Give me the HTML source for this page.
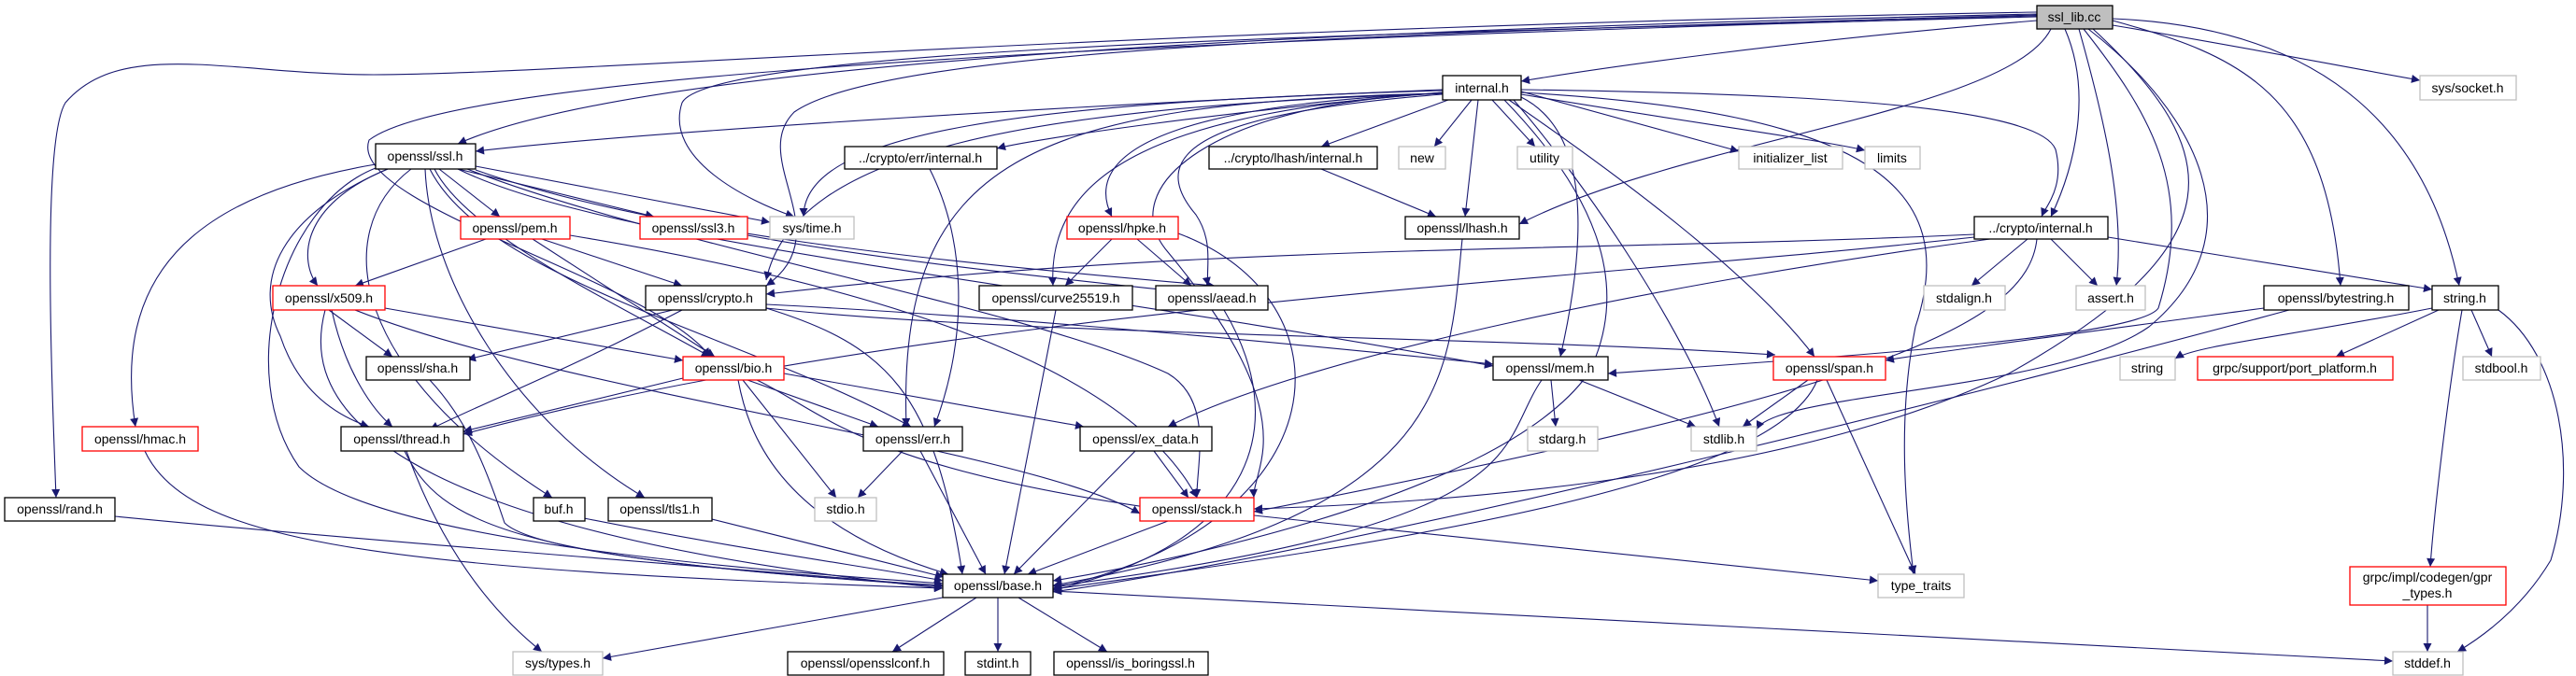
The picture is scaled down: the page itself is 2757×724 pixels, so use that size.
<!DOCTYPE html>
<html><head><meta charset="utf-8"><style>
html,body{margin:0;padding:0;background:#fff}
svg{display:block}
text{font-family:"Liberation Sans",sans-serif;font-size:14px;fill:#000;text-anchor:middle}
.e{fill:none;stroke:#191970;stroke-width:1.1}
.b{fill:#fff;stroke:#000;stroke-width:1.3}
.g{fill:#fff;stroke:#bfbfbf;stroke-width:1.3}
.r{fill:#fff;stroke:#ff0000;stroke-width:1.3}
</style></head><body>
<svg width="2757" height="724" viewBox="0 0 2757 724" xmlns="http://www.w3.org/2000/svg">
<defs><marker id="a" viewBox="0 0 10 10" refX="10" refY="5" markerWidth="11" markerHeight="9" markerUnits="userSpaceOnUse" orient="auto"><path d="M0,0 L10,5 L0,10 z" fill="#191970"/></marker></defs>
<g class="e" marker-end="url(#a)">
<!-- ssl_lib.cc -->
<path d="M2180,22 C1900,45 1700,75 1628,87"/>
<path d="M2180,15 C1500,30 700,60 490,154"/>
<path d="M2180,13 C1200,30 600,80 400,80 C250,80 130,40 70,110 C45,150 55,400 60,533"/>
<path d="M2180,18 C1500,35 760,50 730,110 C710,170 800,215 850,232"/>
<path d="M2180,16 C1500,35 950,50 850,120 C800,170 900,250 820,306"/>
<path d="M2180,17 C1400,40 500,70 395,150 C370,220 700,300 760,382"/>
<path d="M2195,31 C2150,120 1800,150 1626,240"/>
<path d="M2210,31 C2240,100 2220,180 2195,232"/>
<path d="M2225,31 C2250,120 2275,220 2265,306"/>
<path d="M2230,31 C2300,120 2350,200 2310,330 C2290,360 2000,380 1721,400"/>
<path d="M2235,31 C2350,120 2420,250 2300,350 C2200,420 1900,420 1880,460"/>
<path d="M2240,31 C2380,160 2400,260 2150,400 C1900,520 1500,540 1342,545"/>
<path d="M2261,22 C2400,60 2490,100 2505,306"/>
<path d="M2261,20 C2500,30 2600,150 2632,306"/>
<path d="M2261,27 C2400,50 2500,70 2590,86"/>
<!-- internal.h -->
<path d="M1544,96 C1200,110 700,140 509,162"/>
<path d="M1544,99 C1300,120 1100,150 1067,159"/>
<path d="M1550,107 L1414,157"/>
<path d="M1575,107 L1535,157"/>
<path d="M1597,107 L1643,157"/>
<path d="M1628,98 L1861,162"/>
<path d="M1628,101 C1800,130 1950,150 1996,161"/>
<path d="M1544,100 C1300,110 1150,150 1190,232"/>
<path d="M1582,107 L1568,232"/>
<path d="M1544,99 C1250,120 1120,180 1127,306"/>
<path d="M1544,101 C1300,120 1220,160 1280,230 C1300,260 1290,290 1293,306"/>
<path d="M1628,96 C1900,100 2180,110 2200,160 C2210,200 2190,220 2185,232"/>
<path d="M1544,97 C1100,110 860,140 860,232"/>
<path d="M1544,100 C1100,115 850,160 820,300"/>
<path d="M1544,100 C1100,110 960,170 970,457"/>
<path d="M1628,104 C1700,140 1700,250 1670,382"/>
<path d="M1544,100 C1300,110 1190,200 1250,270 C1400,450 1340,500 1342,533"/>
<path d="M1620,107 C1700,200 1800,350 1840,457"/>
<path d="M1615,107 C1750,200 1880,300 1942,382"/>
<path d="M1628,99 C2000,120 2100,200 2050,350 C2030,450 2040,550 2048,615"/>
<path d="M1610,107 C1700,200 1750,300 1700,400 C1600,540 1200,610 1127,622"/>
<!-- mid -->
<path d="M995,181 C1030,250 1040,350 1000,457"/>
<path d="M1414,181 L1537,232"/>
<path d="M1565,256 C1550,400 1560,550 1127,627"/>
<path d="M1190,256 L1140,306"/>
<path d="M1217,256 L1275,306"/>
<path d="M1261,250 C1450,320 1440,560 1127,630"/>
<path d="M1130,332 L1075,615"/>
<path d="M1310,332 C1380,450 1350,580 1127,632"/>
<!-- ssl.h -->
<path d="M470,181 L535,232"/>
<path d="M490,181 L700,232"/>
<path d="M509,178 L824,238"/>
<path d="M415,181 C320,220 320,280 340,306"/>
<path d="M402,176 C200,210 120,300 145,457"/>
<path d="M415,181 C300,230 270,300 300,360 C320,420 360,445 395,457"/>
<path d="M440,181 C350,250 380,400 591,533"/>
<path d="M455,181 C460,300 550,450 690,533"/>
<path d="M465,181 C500,250 650,320 760,382"/>
<path d="M460,181 C520,300 800,360 975,457"/>
<path d="M500,181 C700,260 1100,330 1250,400 C1300,430 1280,500 1281,533"/>
<path d="M402,180 C300,220 250,400 320,500 C400,580 800,610 1009,625"/>
<path d="M509,182 C700,250 1000,280 1300,306"/>
<path d="M490,181 C650,260 1100,300 1598,392"/>
<!-- pem, ssl3, x509, crypto -->
<path d="M520,256 L380,306"/>
<path d="M580,256 L730,306"/>
<path d="M570,256 L765,382"/>
<path d="M610,252 C900,300 1200,380 1281,533"/>
<path d="M800,252 C950,280 1150,300 1260,312"/>
<path d="M352,332 L420,382"/>
<path d="M355,332 C370,400 400,440 420,457"/>
<path d="M412,330 L731,386"/>
<path d="M348,332 C330,400 330,560 1009,630"/>
<path d="M380,332 C600,420 1100,480 1220,550"/>
<path d="M720,332 L500,385"/>
<path d="M730,332 C600,400 520,430 460,460"/>
<path d="M820,326 C1100,340 1400,370 1598,390"/>
<path d="M820,330 C950,370 1000,420 1030,615"/>
<path d="M820,330 C1100,360 1600,360 1900,380"/>
<!-- sha, bio, hmac, thread -->
<path d="M460,407 C500,450 520,500 540,560 C580,600 900,620 1009,628"/>
<path d="M731,405 L496,462"/>
<path d="M790,407 C800,460 830,560 1015,615"/>
<path d="M800,407 L940,457"/>
<path d="M810,407 C880,440 920,500 1240,545"/>
<path d="M795,407 L895,533"/>
<path d="M839,400 L1160,457"/>
<path d="M155,483 C200,580 400,610 1009,630"/>
<path d="M433,483 C470,560 550,600 1009,627"/>
<path d="M435,483 C470,580 520,650 580,698"/>
<!-- bottom -->
<path d="M123,553 C400,580 800,610 1009,628"/>
<path d="M625,555 C800,590 950,610 1009,622"/>
<path d="M762,556 C900,590 980,610 1010,618"/>
<path d="M966,483 L918,533"/>
<path d="M985,483 L1055,615"/>
<path d="M1215,483 L1085,615"/>
<path d="M1235,483 L1272,533"/>
<path d="M1250,558 L1100,615"/>
<path d="M1342,552 C1600,580 1900,610 2010,622"/>
<path d="M1650,407 C1600,480 1650,560 1127,628"/>
<path d="M1660,407 L1665,457"/>
<path d="M1690,407 L1815,457"/>
<path d="M1935,407 L1865,457"/>
<path d="M1955,407 L2050,615"/>
<path d="M1945,407 C1900,520 1500,580 1127,631"/>
<!-- crypto/internal.h -->
<path d="M2170,256 L2110,306"/>
<path d="M2195,256 L2245,306"/>
<path d="M2256,254 L2603,310"/>
<path d="M2113,251 C1700,270 1300,260 820,315"/>
<path d="M2113,254 C1700,300 1000,330 496,465"/>
<path d="M2130,256 C1800,300 1400,380 1250,457"/>
<path d="M2180,256 C2170,350 2000,420 1342,548"/>
<!-- bytestring, string.h -->
<path d="M2423,330 C2200,360 2050,380 2018,386"/>
<path d="M2450,332 C2200,400 1500,580 1127,634"/>
<path d="M2603,330 C2450,360 2350,370 2328,384"/>
<path d="M2610,332 L2500,382"/>
<path d="M2645,332 L2667,382"/>
<path d="M2635,332 C2620,420 2605,550 2601,607"/>
<path d="M2674,332 C2740,380 2760,500 2730,600 C2700,650 2660,680 2630,698"/>
<path d="M2598,648 L2598,698"/>
<!-- base.h -->
<path d="M1009,640 L645,705"/>
<path d="M1045,640 L955,698"/>
<path d="M1068,640 L1068,698"/>
<path d="M1090,640 L1185,698"/>
<path d="M1127,633 L2561,708"/>
</g>
<!-- nodes -->
<g>
<rect x="2180" y="6" width="81" height="25" fill="#bfbfbf" stroke="#000" stroke-width="1.3"/><text x="2220" y="23">ssl_lib.cc</text>
<rect class="b" x="1544" y="81" width="84" height="26"/><text x="1586" y="99">internal.h</text>
<rect class="g" x="2590" y="81" width="103" height="26"/><text x="2641" y="99">sys/socket.h</text>
<rect class="b" x="402" y="154" width="107" height="27"/><text x="455" y="172">openssl/ssl.h</text>
<rect class="b" x="904" y="157" width="163" height="24"/><text x="985" y="174">../crypto/err/internal.h</text>
<rect class="b" x="1294" y="157" width="180" height="24"/><text x="1384" y="174">../crypto/lhash/internal.h</text>
<rect class="g" x="1497" y="157" width="50" height="24"/><text x="1522" y="174">new</text>
<rect class="g" x="1624" y="157" width="59" height="24"/><text x="1653" y="174">utility</text>
<rect class="g" x="1861" y="157" width="111" height="24"/><text x="1916" y="174">initializer_list</text>
<rect class="g" x="1996" y="157" width="59" height="24"/><text x="2025" y="174">limits</text>
<rect class="r" x="493" y="232" width="117" height="24"/><text x="551" y="249">openssl/pem.h</text>
<rect class="r" x="685" y="232" width="115" height="24"/><text x="742" y="249">openssl/ssl3.h</text>
<rect class="g" x="824" y="232" width="90" height="24"/><text x="869" y="249">sys/time.h</text>
<rect class="r" x="1142" y="232" width="119" height="24"/><text x="1201" y="249">openssl/hpke.h</text>
<rect class="b" x="1504" y="232" width="122" height="24"/><text x="1565" y="249">openssl/lhash.h</text>
<rect class="b" x="2113" y="232" width="143" height="24"/><text x="2184" y="249">../crypto/internal.h</text>
<rect class="r" x="292" y="306" width="120" height="26"/><text x="352" y="324">openssl/x509.h</text>
<rect class="b" x="691" y="306" width="129" height="26"/><text x="755" y="324">openssl/crypto.h</text>
<rect class="b" x="1048" y="306" width="164" height="26"/><text x="1130" y="324">openssl/curve25519.h</text>
<rect class="b" x="1237" y="306" width="120" height="26"/><text x="1297" y="324">openssl/aead.h</text>
<rect class="g" x="2059" y="306" width="87" height="26"/><text x="2102" y="324">stdalign.h</text>
<rect class="g" x="2222" y="306" width="74" height="26"/><text x="2259" y="324">assert.h</text>
<rect class="b" x="2423" y="306" width="155" height="26"/><text x="2500" y="324">openssl/bytestring.h</text>
<rect class="b" x="2603" y="306" width="71" height="26"/><text x="2638" y="324">string.h</text>
<rect class="b" x="392" y="382" width="111" height="25"/><text x="447" y="399">openssl/sha.h</text>
<rect class="r" x="731" y="382" width="108" height="25"/><text x="785" y="399">openssl/bio.h</text>
<rect class="b" x="1598" y="382" width="123" height="25"/><text x="1659" y="399">openssl/mem.h</text>
<rect class="r" x="1898" y="382" width="120" height="25"/><text x="1958" y="399">openssl/span.h</text>
<rect class="g" x="2269" y="382" width="59" height="25"/><text x="2298" y="399">string</text>
<rect class="r" x="2352" y="382" width="209" height="25"/><text x="2456" y="399">grpc/support/port_platform.h</text>
<rect class="g" x="2636" y="382" width="83" height="25"/><text x="2677" y="399">stdbool.h</text>
<rect class="r" x="88" y="457" width="124" height="26"/><text x="150" y="475">openssl/hmac.h</text>
<rect class="b" x="365" y="457" width="131" height="26"/><text x="430" y="475">openssl/thread.h</text>
<rect class="b" x="924" y="457" width="106" height="26"/><text x="977" y="475">openssl/err.h</text>
<rect class="b" x="1156" y="457" width="141" height="26"/><text x="1226" y="475">openssl/ex_data.h</text>
<rect class="g" x="1635" y="457" width="75" height="26"/><text x="1672" y="475">stdarg.h</text>
<rect class="g" x="1810" y="457" width="70" height="26"/><text x="1845" y="475">stdlib.h</text>
<rect class="b" x="5" y="533" width="118" height="25"/><text x="64" y="550">openssl/rand.h</text>
<rect class="b" x="571" y="533" width="55" height="25"/><text x="598" y="550">buf.h</text>
<rect class="b" x="651" y="533" width="111" height="25"/><text x="706" y="550">openssl/tls1.h</text>
<rect class="g" x="872" y="533" width="66" height="25"/><text x="905" y="550">stdio.h</text>
<rect class="r" x="1220" y="533" width="122" height="25"/><text x="1281" y="550">openssl/stack.h</text>
<rect class="b" x="1009" y="615" width="118" height="25"/><text x="1068" y="632">openssl/base.h</text>
<rect class="g" x="2010" y="615" width="92" height="25"/><text x="2056" y="632">type_traits</text>
<rect class="r" x="2515" y="607" width="167" height="41"/><text x="2598" y="623">grpc/impl/codegen/gpr</text><text x="2598" y="640">_types.h</text>
<rect class="g" x="549" y="698" width="96" height="25"/><text x="597" y="715">sys/types.h</text>
<rect class="b" x="843" y="698" width="167" height="25"/><text x="926" y="715">openssl/opensslconf.h</text>
<rect class="b" x="1033" y="698" width="70" height="25"/><text x="1068" y="715">stdint.h</text>
<rect class="b" x="1128" y="698" width="165" height="25"/><text x="1210" y="715">openssl/is_boringssl.h</text>
<rect class="g" x="2561" y="698" width="75" height="25"/><text x="2598" y="715">stddef.h</text>
</g>
</svg>
</body></html>
